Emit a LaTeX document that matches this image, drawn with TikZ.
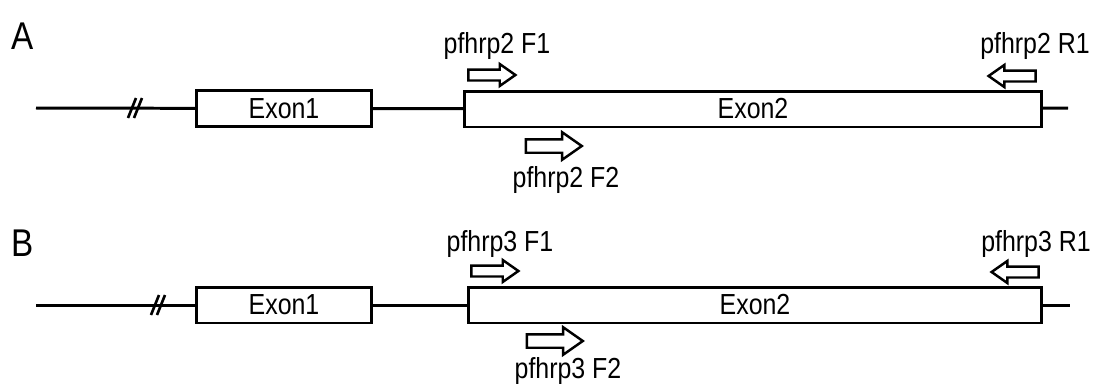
\documentclass[tikz,border=0pt]{standalone}
\usepackage{fontspec}
\setmainfont{Liberation Sans}[FakeStretch=0.86]
\usetikzlibrary{shapes.arrows}
\tikzset{>=stealth}

\begin{document}
\begin{tikzpicture}[x=0.02cm, y=-0.02cm,
    gene/.style={line width=1.7pt},
    exon/.style={draw, line width=1.7pt, fill=white, minimum height=0.72cm, inner sep=0pt, font=\fontsize{16.5}{18}\selectfont},
    primer/.style={single arrow, draw, line width=1.4pt, fill=white, inner xsep=0pt, inner ysep=0.085cm, minimum height=0.94cm, single arrow head extend=0.11cm, single arrow tip angle=70},
    bigprimer/.style={primer, inner ysep=0.11cm, minimum height=1.12cm, single arrow head extend=0.14cm},
    pname/.style={anchor=base, inner sep=0pt, font=\fontsize{16.5}{18}\selectfont},
    panel/.style={inner sep=0pt, font=\fontsize{22}{24}\selectfont},
    brk/.style={line width=1.5pt}]

    \useasboundingbox (0,0) rectangle (1093,383);

    % Panel A: pfhrp2
    \node[panel] (a-lbl) at (23,36) {A};
    \coordinate (a-start) at (36,108);
    \coordinate (a-end) at (1068,108);
    \coordinate (a-brk) at (137,108);
    \node[exon, minimum width=3.5cm] (a-ex1) at (284,108.5) {Exon1\hspace{0.5cm}};
    \node[exon, minimum width=11.54cm] (a-ex2) at (753,109) {Exon2\hspace{0.55cm}};

    % Gene line and break mark
    \draw[gene] (a-start) -- (a-ex1);
    \draw[gene] (a-ex1) -- (a-ex2);
    \draw[gene] (a-ex2) -- (a-end);
    \draw[brk] ([shift={(-9,10)}]a-brk) -- ++(8,-20);
    \draw[brk] ([shift={(-3,10)}]a-brk) -- ++(8,-20);

    % Primers for pfhrp2
    \node[primer] (a-f1) at (488,75) {};
    \node[primer, shape border rotate=180] (a-r1) at (1016,76) {};
    \node[bigprimer] (a-f2) at (549,146) {};
    \node[pname] (a-f1-lbl) at (497,53) {pfhrp2 F1};
    \node[pname] (a-r1-lbl) at (1035,53) {pfhrp2 R1};
    \node[pname] (a-f2-lbl) at (566,187) {pfhrp2 F2};

    % Panel B: pfhrp3
    \node[panel] (b-lbl) at (23,243) {B};
    \coordinate (b-start) at (36,305);
    \coordinate (b-end) at (1070,305);
    \coordinate (b-brk) at (160,305);
    \node[exon, minimum width=3.5cm] (b-ex1) at (284,305) {Exon1\hspace{0.5cm}};
    \node[exon, minimum width=11.46cm] (b-ex2) at (755,305) {Exon2\hspace{0.55cm}};

    % Gene line and break mark
    \draw[gene] (b-start) -- (b-ex1);
    \draw[gene] (b-ex1) -- (b-ex2);
    \draw[gene] (b-ex2) -- (b-end);
    \draw[brk] ([shift={(-9,10)}]b-brk) -- ++(8,-20);
    \draw[brk] ([shift={(-3,10)}]b-brk) -- ++(8,-20);

    % Primers for pfhrp3
    \node[primer] (b-f1) at (491,271) {};
    \node[primer, shape border rotate=180] (b-r1) at (1019,272) {};
    \node[bigprimer] (b-f2) at (550,341) {};
    \node[pname] (b-f1-lbl) at (500,251) {pfhrp3 F1};
    \node[pname] (b-r1-lbl) at (1036,251) {pfhrp3 R1};
    \node[pname] (b-f2-lbl) at (568,378) {pfhrp3 F2};

\end{tikzpicture}
\end{document}
